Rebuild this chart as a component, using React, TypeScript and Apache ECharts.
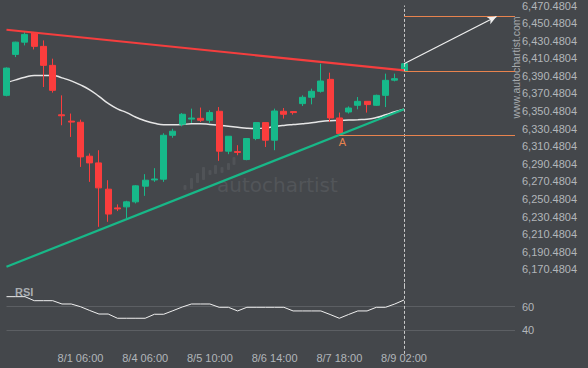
import React, { useEffect, useRef } from "react";
import * as echarts from "echarts";

const categories = [
  "7/30 22:00", "7/31 02:00", "7/31 06:00", "7/31 10:00", "7/31 14:00", "7/31 18:00", "7/31 22:00", "8/1 02:00",
  "8/1 06:00", "8/1 10:00", "8/1 14:00", "8/1 18:00", "8/3 22:00", "8/4 02:00", "8/4 04:00",
  "8/4 06:00", "8/4 10:00", "8/4 14:00", "8/4 18:00", "8/4 22:00", "8/5 02:00", "8/5 06:00",
  "8/5 10:00", "8/5 14:00", "8/5 18:00", "8/5 22:00", "8/6 02:00", "8/6 06:00", "8/6 10:00",
  "8/6 14:00", "8/6 18:00", "8/6 22:00", "8/7 02:00", "8/7 06:00", "8/7 10:00", "8/7 14:00",
  "8/7 18:00", "8/7 22:00", "8/8 02:00", "8/8 06:00", "8/8 10:00", "8/8 14:00", "8/8 22:00",
  "8/9 02:00",
  "8/9 06:00", "8/9 10:00", "8/9 14:00", "8/9 18:00", "8/9 22:00", "8/10 02:00", "8/10 06:00",
  "8/10 10:00", "8/10 14:00", "8/10 18:00", "8/10 22:00", "8/11 02:00",
];

const shownLabelIndex = [8, 15, 22, 29, 36, 43];

// price axis ticks: 6,150.4804 ... 6,470.4804 every 20
const priceTickMin = 6150.4804;
const priceTickMax = 6470.4804;
const priceTickStep = 20;

const opens = [
  6368.3, 6414.9, 6428.8, 6439.5, 6424.0, 6402.4, 6346.2, 6339.0, 6337.7, 6299.1, 6291.5,
  6261.6, 6240.3, 6241.5, 6247.2, 6265.0, 6272.1, 6273.0, 6322.9, 6335.4, 6341.3, 6342.2,
  6340.0, 6350.2, 6304.8, 6304.5, 6295.3, 6319.2, 6337.3, 6317.3, 6350.2, 6349.8, 6358.9,
  6366.1, 6372.9, 6386.5, 6342.6, 6349.4, 6357.0, 6361.5, 6357.0, 6368.3, 6385.6, 6396.1,
];
const closes = [
  6399.3, 6428.8, 6437.6, 6424.0, 6402.4, 6374.0, 6345.1, 6337.9, 6298.3, 6291.5, 6263.1,
  6233.3, 6239.2, 6247.2, 6265.4, 6271.8, 6273.2, 6322.9, 6327.5, 6346.8, 6342.5, 6340.0,
  6348.7, 6304.8, 6321.8, 6303.4, 6319.2, 6337.3, 6317.3, 6350.5, 6346.8, 6348.7, 6366.1,
  6372.9, 6384.6, 6342.6, 6324.9, 6353.9, 6361.5, 6357.8, 6368.3, 6385.4, 6387.3, 6404.3,
];
const lows = [
  6367.2, 6411.8, 6425.1, 6420.5, 6377.8, 6371.4, 6334.3, 6321.0, 6286.9, 6269.9, 6218.8,
  6224.5, 6236.7, 6228.4, 6245.4, 6254.0, 6269.9, 6269.9, 6320.1, 6333.1, 6336.9, 6338.0,
  6336.9, 6293.8, 6301.4, 6300.2, 6294.5, 6317.3, 6309.6, 6305.9, 6341.9, 6346.4, 6356.2,
  6358.1, 6371.4, 6338.0, 6323.7, 6347.6, 6352.4, 6348.7, 6356.2, 6355.0, 6384.2, 6395.9,
];
const highs = [
  6400.1, 6429.3, 6440.2, 6440.4, 6430.8, 6410.0, 6368.3, 6347.6, 6340.7, 6302.2, 6305.9,
  6271.8, 6244.3, 6248.4, 6266.2, 6278.7, 6285.5, 6325.2, 6330.3, 6348.2, 6353.2, 6354.4,
  6351.3, 6355.0, 6321.8, 6311.6, 6319.5, 6337.6, 6337.7, 6353.2, 6353.9, 6350.2, 6368.3,
  6375.9, 6404.3, 6394.1, 6348.7, 6355.8, 6366.4, 6361.7, 6369.1, 6393.0, 6393.0, 6404.5,
];

const movingAverage = [
  6382.7, 6385.9, 6388.8, 6391.0, 6391.0, 6391.0, 6388.2, 6384.8, 6380.2, 6374.6, 6367.2,
  6359.2, 6353.0, 6348.7, 6343.4, 6339.4, 6336.5, 6334.8, 6334.8, 6335.1, 6336.0, 6336.0,
  6335.2, 6334.3, 6333.1, 6332.0, 6330.9, 6330.5, 6331.1, 6332.8, 6334.1, 6335.1, 6336.0,
  6337.1, 6338.6, 6339.4, 6339.7, 6340.2, 6340.6, 6341.1, 6343.0, 6346.2, 6349.6, 6352.4,
];

const rsi = [
  68.5, 68.5, 68.5, 65.1, 65.1, 65.1, 62.3, 62.3, 60.0, 56.8, 53.8, 53.8, 50.2, 50.2, 50.2,
  50.2, 53.6, 53.6, 56.6, 59.7, 62.3, 62.3, 62.3, 59.5, 59.5, 56.4, 59.5, 59.5, 59.5, 59.5,
  59.5, 56.4, 56.4, 56.4, 56.4, 53.4, 50.2, 53.4, 56.4, 56.4, 59.5, 59.5, 62.3, 65.7,
];

// trend lines: [index, price]
const resistanceLine = [[0, 6442.9], [43, 6396.7]];
const supportLine = [[0, 6173.4], [43, 6352.4]];

const breakoutIndex = 43;
const breakoutPrice = 6404.3;
const targetIndex = 53;
const targetPrice = 6458.0;
const breakLevel = 6395.6;
const pointAIndex = 36;
const pointALevel = 6322.9;
const lastIndex = 55;

const BG = "#44474b";
const TXT = "#b2b6ba";
const UP = "#17b98a";
const DOWN = "#fb3d3d";
const ORANGE = "#e8834e";

function fmtPrice(v: number) {
  const k = Math.round((v - priceTickMin) / priceTickStep);
  const s = (priceTickMin + k * priceTickStep).toFixed(4);
  const [i, d] = s.split(".");
  return i.replace(/\B(?=(\d{3})+(?!\d))/g, ",") + "." + d;
}

export default function App() {
  const ref = useRef<HTMLDivElement>(null);
  useEffect(() => {
    if (!ref.current) return;
    const chart = echarts.init(ref.current, undefined, { renderer: "svg" });
    const candles = opens.map((o, i) => [o, closes[i], lows[i], highs[i]]);
    const logoBars = [
      [183.5, 185, 5], [190, 178, 11], [196, 173, 10], [202, 167, 13], [208.5, 170, 5],
      [214, 165, 9], [220.5, 167, 6], [227, 163, 7], [232.5, 157, 8],
    ];
    const option: any = {
      animation: false,
      backgroundColor: BG,
      textStyle: { fontFamily: "'Liberation Sans', Arial, sans-serif" },
      grid: [
        { left: 6.5, right: 73, top: 5, height: 281.9 },
        { left: 6.5, right: 73, top: 283.1, height: 70.8 },
      ],
      xAxis: [
        {
          type: "category", gridIndex: 0, data: categories, boundaryGap: false,
          axisLine: { show: false }, axisTick: { show: false }, axisLabel: { show: false },
          splitLine: { show: false },
        },
        {
          type: "category", gridIndex: 1, data: categories, boundaryGap: false,
          axisLine: { show: false }, axisTick: { show: false }, splitLine: { show: false },
          axisLabel: {
            color: TXT, fontSize: 11, margin: -1,
            interval: (idx: number) => shownLabelIndex.includes(idx),
          },
        },
      ],
      yAxis: [
        {
          type: "value", gridIndex: 0, position: "right", min: priceTickMin, max: priceTickMax, interval: priceTickStep,
          axisLine: { show: false }, axisTick: { show: false }, splitLine: { show: false },
          axisLabel: { color: TXT, fontSize: 11, margin: 7, showMinLabel: false, formatter: fmtPrice },
        },
        {
          type: "value", gridIndex: 1, position: "right", min: 20, max: 80, interval: 20,
          axisLine: { show: false }, axisTick: { show: false },
          splitLine: { show: true, showMinLine: false, showMaxLine: false, lineStyle: { color: "#5c5f63", width: 1 } },
          axisLabel: { color: TXT, fontSize: 11, margin: 7, showMinLabel: false, showMaxLabel: false },
        },
      ],
      graphic: [
        ...logoBars.map(([x, y, h]) => ({
          type: "rect", shape: { x, y, width: 3, height: h, r: 1 }, style: { fill: "#505357" }, silent: true,
        })),
        {
          type: "text", x: 217, y: 185, silent: true,
          style: { text: "autochartist", fill: "#525559", font: "20px 'DejaVu Sans'", textVerticalAlign: "middle" },
        },
        {
          type: "text", x: 515.5, y: 67.5, rotation: Math.PI / 2, silent: true,
          style: {
            text: "www.autochartist.com", fill: "#a6aaae", font: "10.5px 'Liberation Sans'",
            textAlign: "center", textVerticalAlign: "middle",
          },
        },
        {
          type: "text", x: 15, y: 291.5, silent: true,
          style: { text: "RSI", fill: "#a9adb1", font: "bold 11px 'Liberation Sans'", textVerticalAlign: "middle" },
        },
      ],
      series: [
        {
          type: "line", xAxisIndex: 0, yAxisIndex: 0, data: movingAverage, smooth: true, symbol: "none",
          lineStyle: { color: "#e6e6e6", width: 1.5 }, z: 2,
        },
        {
          type: "candlestick", xAxisIndex: 0, yAxisIndex: 0, data: candles, barWidth: 6.5, z: 3, clip: true,
          itemStyle: { color: UP, color0: DOWN, borderColor: UP, borderColor0: DOWN, borderWidth: 1 },
          markLine: {
            silent: true, symbol: "none", label: { show: false },
            lineStyle: { color: "#c9c9c9", type: [3, 2], width: 1 },
            data: [{ xAxis: breakoutIndex }],
          },
          markPoint: {
            silent: true,
            data: [{
              coord: [pointAIndex, pointALevel], symbol: "circle", symbolSize: 1,
              itemStyle: { color: "rgba(0,0,0,0)" },
              label: { show: true, formatter: "A", color: ORANGE, fontSize: 11, position: "bottom", distance: 1, offset: [3, 0] },
            }],
          },
        },
        {
          type: "line", xAxisIndex: 0, yAxisIndex: 0, data: resistanceLine, symbol: "none",
          lineStyle: { color: "#f53e3e", width: 2.2 }, z: 4,
        },
        {
          type: "line", xAxisIndex: 0, yAxisIndex: 0, data: supportLine, symbol: "none",
          lineStyle: { color: "#18b888", width: 2.2 }, z: 4,
        },
        {
          type: "line", xAxisIndex: 0, yAxisIndex: 0, data: [], symbol: "none", z: 5,
          markLine: {
            silent: true, symbol: "none", label: { show: false },
            lineStyle: { color: ORANGE, width: 1, type: "solid" },
            data: [
              [{ coord: [breakoutIndex, targetPrice] }, { coord: [lastIndex, targetPrice] }],
              [{ coord: [breakoutIndex, breakLevel] }, { coord: [lastIndex, breakLevel] }],
              [{ coord: [pointAIndex, pointALevel] }, { coord: [lastIndex, pointALevel] }],
              [
                { coord: [breakoutIndex, breakoutPrice], symbol: "none", lineStyle: { color: "#f0f0f0", width: 1.2 } },
                { coord: [targetIndex, targetPrice], symbol: "arrow", symbolSize: [6, 9], lineStyle: { color: "#f0f0f0", width: 1.2 } },
              ],
            ],
          },
        },
        {
          type: "line", xAxisIndex: 1, yAxisIndex: 1, data: rsi, symbol: "none",
          lineStyle: { color: "#f0f0f0", width: 1 },
          markLine: {
            silent: true, symbol: "none", label: { show: false },
            lineStyle: { color: "#c9c9c9", type: [3, 2], width: 1 },
            data: [{ xAxis: breakoutIndex }],
          },
        },
      ],
    };
    chart.setOption(option);
    return () => chart.dispose();
  }, []);
  return (
    <div
      ref={ref}
      style={{ position: "fixed", left: 0, top: 0, width: 588, height: 368, background: BG }}
    />
  );
}
